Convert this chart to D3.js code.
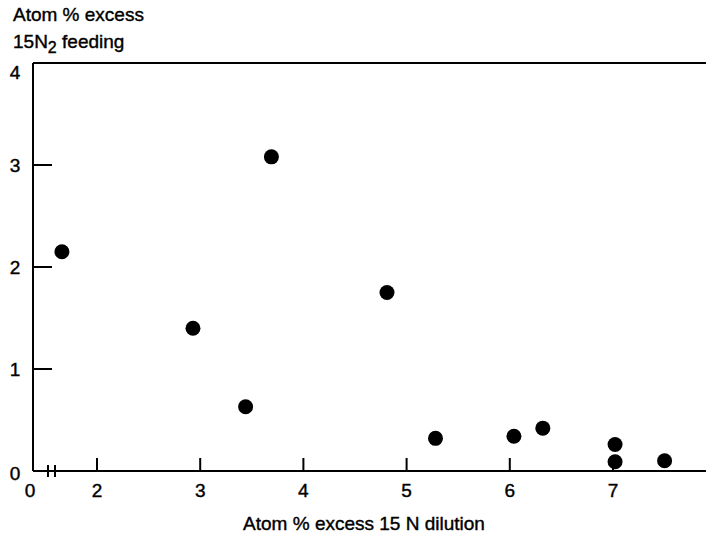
<!DOCTYPE html>
<html>
<head>
<meta charset="utf-8">
<script src="https://cdn.jsdelivr.net/npm/d3@7"></script>
<style>
  body { margin: 0; background: #fff; }
  svg { font-family: "Liberation Sans", Arial, sans-serif; }
  text { fill: #000; stroke: #000; stroke-width: 0.4; }
</style>
</head>
<body>
<script>
// atom % excess 15N dilution vs atom % excess 15N2 feeding
const dilution = [1.66, 3.69, 2.93, 3.44, 4.81, 5.28, 6.04, 6.32, 7.02, 7.02, 7.50];
const feeding  = [2.15, 3.08, 1.40, 0.63, 1.75, 0.32, 0.34, 0.42, 0.26, 0.09, 0.10];
const xTicks = [2, 3, 4, 5, 6, 7];
const yTicks = [0, 1, 2, 3, 4];

const width = 706, height = 541;
const svg = d3.select('body').append('svg')
  .attr('width', width)
  .attr('height', height);

const x = d3.scaleLinear().domain([2, 7]).range([97, 613]);
const y = d3.scaleLinear().domain([0, 4]).range([471, 63]);
const x0 = 33; // left axis, x = 0 (axis is broken between 0 and 2)

// frame: left axis, top line, bottom axis
svg.append('line').attr('x1', x0).attr('x2', x0).attr('y1', y(4)).attr('y2', y(0))
  .attr('stroke', '#000').attr('stroke-width', 2);
svg.append('line').attr('x1', x0).attr('x2', width).attr('y1', y(4)).attr('y2', y(4))
  .attr('stroke', '#000').attr('stroke-width', 2);
svg.append('line').attr('x1', x0).attr('x2', width).attr('y1', y(0)).attr('y2', y(0))
  .attr('stroke', '#000').attr('stroke-width', 2);

// axis break marks
[48, 55].forEach(bx => {
  svg.append('line').attr('x1', bx).attr('x2', bx).attr('y1', y(0) - 6).attr('y2', y(0) + 6)
    .attr('stroke', '#000').attr('stroke-width', 2);
});

// x ticks
svg.selectAll('.xt').data(xTicks).enter().append('line')
  .attr('x1', d => x(d)).attr('x2', d => x(d))
  .attr('y1', y(0)).attr('y2', y(0) - 13)
  .attr('stroke', '#000').attr('stroke-width', 2);
svg.selectAll('.xl').data(xTicks).enter().append('text')
  .attr('x', d => x(d)).attr('y', 497)
  .attr('text-anchor', 'middle').attr('font-size', 19)
  .text(d => d);
svg.append('text').attr('x', 30).attr('y', 497)
  .attr('text-anchor', 'middle').attr('font-size', 19).text('0');

// y ticks
svg.selectAll('.yt').data(yTicks.filter(d => d > 0 && d < 4)).enter().append('line')
  .attr('x1', x0).attr('x2', x0 + 19)
  .attr('y1', d => y(d)).attr('y2', d => y(d))
  .attr('stroke', '#000').attr('stroke-width', 2);
svg.selectAll('.yl').data(yTicks).enter().append('text')
  .attr('x', 15).attr('y', d => y(d) + (d === 4 ? 16 : d === 0 ? 9 : 7))
  .attr('text-anchor', 'middle').attr('font-size', 19)
  .text(d => d);

// points
svg.selectAll('circle').data(dilution).enter().append('circle')
  .attr('cx', d => x(d))
  .attr('cy', (d, i) => y(feeding[i]))
  .attr('r', 7.5)
  .attr('fill', '#000');

// axis titles
svg.append('text').attr('x', 13).attr('y', 21).attr('font-size', 19).text('Atom % excess');
const t2 = svg.append('text').attr('x', 13).attr('y', 48).attr('font-size', 19);
t2.append('tspan').text('15N');
t2.append('tspan').attr('dy', 5).attr('font-size', 16).text('2');
t2.append('tspan').attr('dy', -5).text(' feeding');

svg.append('text').attr('x', 364).attr('y', 530)
  .attr('text-anchor', 'middle').attr('font-size', 19)
  .text('Atom % excess 15 N dilution');
</script>
</body>
</html>
